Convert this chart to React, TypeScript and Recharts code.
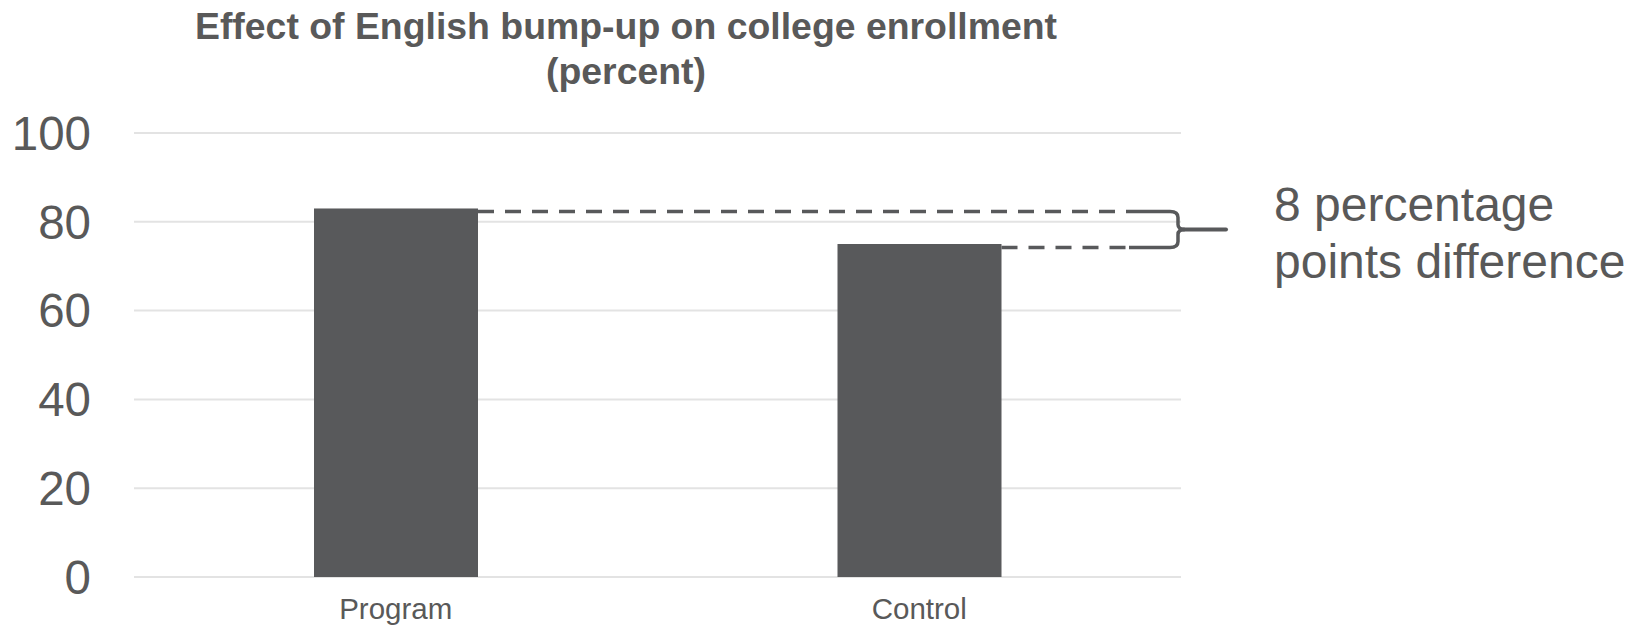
import { BarChart, Bar, XAxis, YAxis, CartesianGrid } from 'recharts';

// ---------------------------------------------------------------------------
// Data
// ---------------------------------------------------------------------------

const categories = ['Program', 'Control'];
const enrollment = [83, 75];
const yTicks = [0, 20, 40, 60, 80, 100];
const titleLines = ['Effect of English bump-up on college enrollment', '(percent)'];
const noteLines = ['8 percentage', 'points difference'];

const data = categories.map((name, i) => ({ name, value: enrollment[i] }));

// ---------------------------------------------------------------------------
// Layout / style
// ---------------------------------------------------------------------------

const WIDTH = 1636;
const HEIGHT = 626;
const Y_AXIS_W = 134;
const X_AXIS_H = 49;
const MARGIN = { top: 133, right: 455, bottom: 0, left: 0 };
const PLOT_RIGHT = WIDTH - MARGIN.right;

const FONT = 'Arial, "Liberation Sans", Helvetica, sans-serif';
const TEXT = '#595959';
const BAR = '#58595b';
const GRID = '#e3e3e3';

// ---------------------------------------------------------------------------
// Bar shape: draws the bar plus the dashed guides, brace and note
// ---------------------------------------------------------------------------

function EnrollmentBar(props: any) {
  const { x, y, width, height, index, payload } = props;
  const bottom = y + height;
  const pxPerUnit = height / payload.value;
  const topOf = (v: number) => bottom - v * pxPerUnit;

  const yHigh = topOf(enrollment[0]) + 3;
  const yLow = topOf(enrollment[1]) + 3.5;
  const yMid = (yHigh + yLow) / 2;
  const dashEnd = PLOT_RIGHT - 52;
  const braceX = PLOT_RIGHT - 3;
  const tipX = braceX + 48;

  const rect = <rect x={x} y={y} width={width} height={height} fill={BAR} />;
  const dashed = { stroke: BAR, strokeWidth: 3.5, strokeDasharray: '16 11' };

  if (index === 0) {
    return (
      <g>
        {rect}
        <line x1={x + width} x2={dashEnd} y1={yHigh} y2={yHigh} {...dashed} />
      </g>
    );
  }

  const brace = [
    `M ${dashEnd} ${yHigh}`,
    `L ${braceX - 8} ${yHigh}`,
    `Q ${braceX} ${yHigh} ${braceX} ${yHigh + 6}`,
    `L ${braceX} ${yMid - 5}`,
    `Q ${braceX} ${yMid} ${braceX + 7} ${yMid}`,
    `M ${braceX + 7} ${yMid}`,
    `Q ${braceX} ${yMid} ${braceX} ${yMid + 5}`,
    `L ${braceX} ${yLow - 6}`,
    `Q ${braceX} ${yLow} ${braceX - 8} ${yLow}`,
    `L ${dashEnd} ${yLow}`,
  ].join(' ');

  return (
    <g>
      {rect}
      <line x1={x + width} x2={dashEnd} y1={yLow} y2={yLow} {...dashed} />
      <path d={brace} fill="none" stroke={BAR} strokeWidth={3.5} strokeLinejoin="round" />
      <line x1={braceX + 5} x2={tipX} y1={yMid} y2={yMid} stroke={BAR} strokeWidth={4} strokeLinecap="round" />
      <text x={tipX + 48} y={yMid - 8} fontSize={48} fill={TEXT} fontFamily={FONT}>
        {noteLines[0]}
      </text>
      <text x={tipX + 48} y={yMid + 48.5} fontSize={48} fill={TEXT} fontFamily={FONT}>
        {noteLines[1]}
      </text>
    </g>
  );
}

// ---------------------------------------------------------------------------
// Component
// ---------------------------------------------------------------------------

export default function App() {
  return (
    <div
      style={{
        position: 'absolute',
        left: 0,
        top: 0,
        width: WIDTH,
        height: HEIGHT,
        background: '#ffffff',
        fontFamily: FONT,
      }}
    >
      <div
        style={{
          position: 'absolute',
          left: 0,
          top: 4,
          width: 1252,
          textAlign: 'center',
          fontWeight: 'bold',
          fontSize: 37.4,
          lineHeight: '45px',
          color: TEXT,
        }}
      >
        {titleLines.map((t) => (
          <div key={t}>{t}</div>
        ))}
      </div>
      <BarChart width={WIDTH} height={HEIGHT} data={data} margin={MARGIN}>
        <CartesianGrid vertical={false} stroke={GRID} strokeWidth={2} />
        <XAxis
          dataKey="name"
          height={X_AXIS_H}
          axisLine={false}
          tickLine={false}
          tickSize={0}
          tickMargin={21}
          interval={0}
          tick={{ fontSize: 29.5, fill: TEXT, fontFamily: FONT }}
        />
        <YAxis
          domain={[0, 100]}
          ticks={yTicks}
          width={Y_AXIS_W}
          axisLine={false}
          tickLine={false}
          tickSize={0}
          tickMargin={43}
          tick={{ fontSize: 47.5, fill: TEXT, fontFamily: FONT }}
        />
        <Bar dataKey="value" barSize={164} shape={EnrollmentBar} isAnimationActive={false} />
      </BarChart>
    </div>
  );
}
